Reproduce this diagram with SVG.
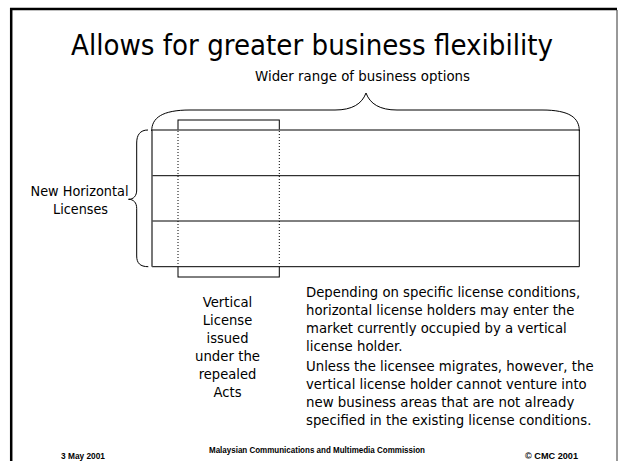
<svg xmlns="http://www.w3.org/2000/svg" width="618" height="461" viewBox="0 0 618 461">
<style>
  .t { font-family: "DejaVu Sans", "Liberation Sans", sans-serif; fill: #000; }
  .body { font-size: 14.2px; }
  .mid { text-anchor: middle; }
  .foot { font-family: "Liberation Sans", Arial, sans-serif; font-weight: bold; font-size: 8.5px; fill: #000; }
  .ln { stroke: #000; stroke-width: 1; fill: none; }
  .edge { stroke: #555; stroke-width: 1.6; fill: none; }
  .dot { stroke: #000; stroke-width: 1; stroke-dasharray: 1 2; fill: none; }
  .brace { stroke: #000; stroke-width: 1; fill: none; }
</style>
<rect x="0" y="0" width="618" height="461" fill="#fff"/>

<g id="frame">
  <line x1="10" y1="9" x2="617" y2="9" stroke="#000" stroke-width="2.5"/>
  <line x1="11.2" y1="8" x2="11.2" y2="461" stroke="#000" stroke-width="2.5"/>
  <line x1="617" y1="10" x2="617" y2="461" stroke="#333" stroke-width="1"/>
</g>

<g id="title">
  <text class="t" x="71" y="55" font-size="28" textLength="482" lengthAdjust="spacingAndGlyphs">Allows for greater business flexibility</text>
</g>

<g id="subtitle">
  <text class="t body" x="255" y="80.5" textLength="215" lengthAdjust="spacingAndGlyphs">Wider range of business options</text>
</g>

<g id="vertical-license-box">
  <rect x="178" y="120" width="101.3" height="157" class="ln" fill="#fff"/>
</g>

<g id="horizontal-licenses">
  <rect x="152" y="130" width="427.3" height="136.7" fill="#fff"/>
  <line x1="152" y1="175.7" x2="579.3" y2="175.7" class="ln"/>
  <line x1="152" y1="221" x2="579.3" y2="221" class="ln"/>
  <line x1="152" y1="266.7" x2="579.3" y2="266.7" class="ln"/>
  <line x1="579.3" y1="130" x2="579.3" y2="266.7" class="ln"/>
  <line x1="152" y1="130" x2="579.3" y2="130" class="edge"/>
  <line x1="152" y1="130" x2="152" y2="266.7" class="edge"/>
</g>

<g id="vertical-license-dotted">
  <line x1="178" y1="131" x2="178" y2="266" class="dot"/>
  <line x1="279.3" y1="131" x2="279.3" y2="266" class="dot"/>
</g>

<g id="braces">
  <path class="brace" d="M151.7,131 C151.7,118 162,110 190,110 L335,110 C352,110 362,104 366,93 C370,104 380,110 397,110 L542,110 C570,110 579.3,118 579.3,131"/>
  <path class="brace" d="M148,130 C140,130 136.7,135 136.7,143 L136.7,190 C136.7,196 133.5,199.3 128.5,199.3 C133.5,199.3 136.7,202.5 136.7,208.5 L136.7,256 C136.7,263 140,266.7 148.3,266.7"/>
</g>

<g id="new-horizontal-label">
  <text class="t body mid" x="79.5" y="196" textLength="98" lengthAdjust="spacingAndGlyphs">New Horizontal</text>
  <text class="t body mid" x="80.5" y="213.5" textLength="55" lengthAdjust="spacingAndGlyphs">Licenses</text>
</g>

<g id="vertical-license-label">
  <text class="t body mid" x="227.5" y="307.3" textLength="49.6" lengthAdjust="spacingAndGlyphs">Vertical</text>
  <text class="t body mid" x="227.5" y="325.2" textLength="49.4" lengthAdjust="spacingAndGlyphs">License</text>
  <text class="t body mid" x="227.5" y="343" textLength="41.9" lengthAdjust="spacingAndGlyphs">issued</text>
  <text class="t body mid" x="227.5" y="360.8" textLength="65.1" lengthAdjust="spacingAndGlyphs">under the</text>
  <text class="t body mid" x="227.5" y="378.6" textLength="57.7" lengthAdjust="spacingAndGlyphs">repealed</text>
  <text class="t body mid" x="227.5" y="396.5" textLength="28" lengthAdjust="spacingAndGlyphs">Acts</text>
</g>

<g id="explanation">
  <text class="t body" x="306" y="296.5" textLength="274.2" lengthAdjust="spacingAndGlyphs">Depending on specific license conditions,</text>
  <text class="t body" x="306" y="314.5" textLength="268.4" lengthAdjust="spacingAndGlyphs">horizontal license holders may enter the</text>
  <text class="t body" x="306" y="332.5" textLength="260.7" lengthAdjust="spacingAndGlyphs">market currently occupied by a vertical</text>
  <text class="t body" x="306" y="350.5" textLength="96.5" lengthAdjust="spacingAndGlyphs">license holder.</text>
  <text class="t body" x="306" y="370.7" textLength="287.6" lengthAdjust="spacingAndGlyphs">Unless the licensee migrates, however, the</text>
  <text class="t body" x="306" y="388.9" textLength="280.7" lengthAdjust="spacingAndGlyphs">vertical license holder cannot venture into</text>
  <text class="t body" x="306" y="407" textLength="268.4" lengthAdjust="spacingAndGlyphs">new business areas that are not already</text>
  <text class="t body" x="306" y="425.2" textLength="285.4" lengthAdjust="spacingAndGlyphs">specified in the existing license conditions.</text>
</g>

<g id="footer">
  <text class="foot" x="61" y="459" textLength="44" lengthAdjust="spacingAndGlyphs">3 May 2001</text>
  <text class="foot" x="209" y="453" textLength="216" lengthAdjust="spacingAndGlyphs">Malaysian Communications and Multimedia Commission</text>
  <text class="foot" x="525" y="459" textLength="53" lengthAdjust="spacingAndGlyphs">© CMC 2001</text>
</g>
</svg>
